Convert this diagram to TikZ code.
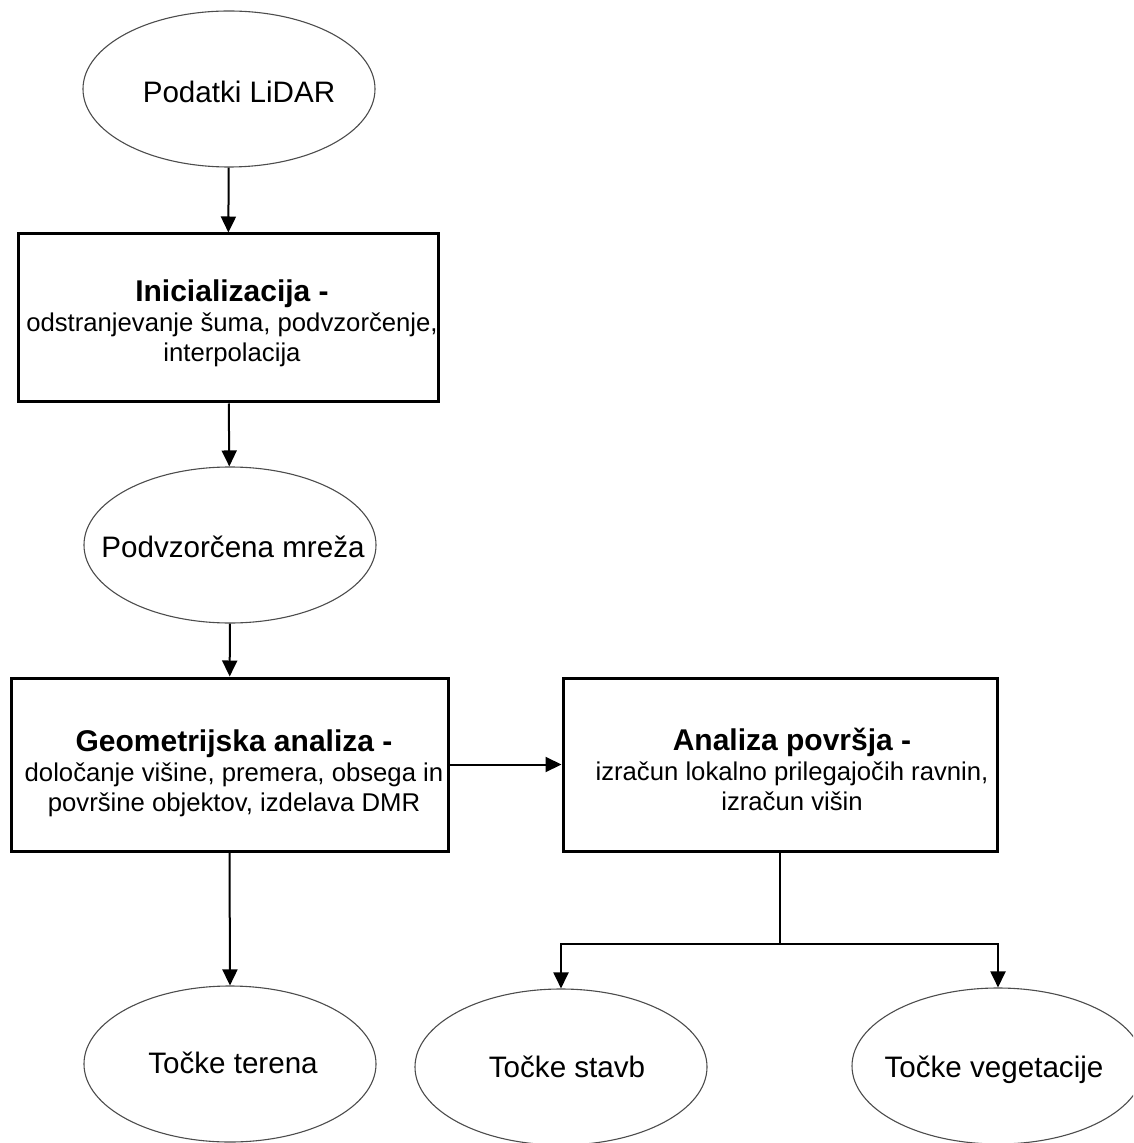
\documentclass[tikz,border=0pt]{standalone}
\usepackage{fontspec}
\setmainfont{Liberation Sans}
\usetikzlibrary{shapes.geometric,arrows.meta}

\begin{document}
\begin{tikzpicture}[x=0.5pt,y=-0.5pt]
\tikzstyle{every node}+=[inner sep=0pt]
\tikzstyle{oval}=[draw=black!70, line width=0.55pt, ellipse, minimum width=146pt, minimum height=78pt]
\tikzstyle{procbox}=[draw, line width=1.5pt, rectangle]
\tikzstyle{txt}=[anchor=base, align=center, font=\fontsize{12.85pt}{15pt}\selectfont]
\tikzstyle{big}=[anchor=base, font=\fontsize{14.8pt}{18pt}\selectfont]
\tikzstyle{arr}=[line width=1pt, -{Triangle[length=8pt,width=7.5pt]}]
\useasboundingbox (0,0) rectangle (1133,1143);
\clip (0,0) rectangle (1133,1143);
% shapes
\node [oval] (lidar) at (229,89) {};
\node [big] (lidar-t) at (239,103) {Podatki LiDAR};
\node [procbox, minimum width=210pt, minimum height=84pt] (init) at (228,318) {};
\node [txt] (init-t) at (232,362) {{\fontsize{15pt}{15pt}\selectfont\bfseries Inicializacija -}\\odstranjevanje šuma, podvzorčenje,\\interpolacija};
\node [oval] (mreza) at (230,545) {};
\node [big] (mreza-t) at (233,557) {Podvzorčena mreža};
\node [procbox, minimum width=218.5pt, minimum height=86.5pt] (geom) at (229.5,764.5) {};
\node [txt] (geom-t) at (234,811) {{\fontsize{15pt}{15pt}\selectfont\bfseries Geometrijska analiza -}\\določanje višine, premera, obsega in\\površine objektov, izdelava DMR};
\node [procbox, minimum width=217pt, minimum height=86.5pt] (povr) at (780,764.5) {};
\node [txt] (povr-t) at (792,810) {{\fontsize{15pt}{15pt}\selectfont\bfseries Analiza površja -}\\izračun lokalno prilegajočih ravnin,\\izračun višin};
\node [oval] (teren) at (230,1064) {};
\node [big] (teren-t) at (233,1073) {Točke terena};
\node [oval] (stavb) at (561,1067) {};
\node [big] (stavb-t) at (567,1077) {Točke stavb};
\node [oval] (veget) at (998,1066) {};
\node [big] (veget-t) at (994,1077) {Točke vegetacije};
\coordinate (split) at (780,944);
% connectors
\draw [arr] (lidar) -- (init);
\draw [arr] (init) -- (mreza);
\draw [arr] (mreza) -- (geom);
\draw [arr] (geom) -- (povr);
\draw [arr] (geom.south) -- (teren.north);
\draw [line width=1pt] (povr.south) -- (split);
\draw [arr] (split) -| (stavb.north);
\draw [arr] (split) -| (veget.north);
\end{tikzpicture}
\end{document}
